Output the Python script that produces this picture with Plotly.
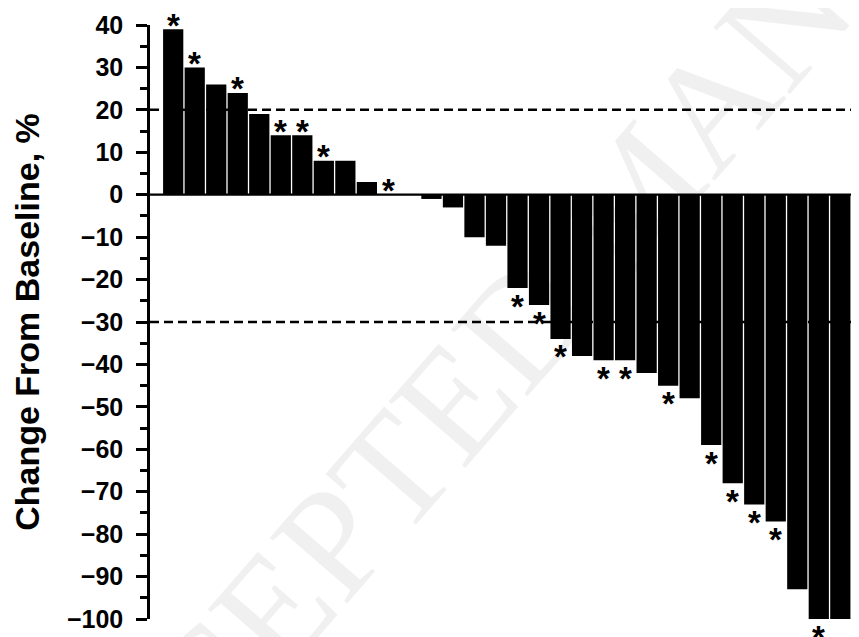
import plotly.graph_objects as go

# ---- data ----
patients = list(range(1, 33))
change_pct = [39, 30, 26, 24, 19, 14, 14, 8, 8, 3, 0, 0,
              -1, -3, -10, -12, -22, -26, -34, -38, -39, -39, -42, -45,
              -48, -59, -68, -73, -77, -93, -100, -100]
starred = [1, 1, 0, 1, 0, 1, 1, 1, 0, 0, 1, 0,
           0, 0, 0, 0, 1, 1, 1, 0, 1, 1, 0, 1,
           0, 1, 1, 1, 1, 0, 1, 0]
ref_lines = [20, -30]
y_ticks = list(range(-100, 41, 10))

FONT = "Liberation Sans"
X_RANGE = [-0.078, 32.868]

fig = go.Figure()
fig.add_trace(go.Bar(
    x=patients, y=change_pct,
    marker=dict(color="black", line=dict(width=0)),
    showlegend=False, hoverinfo="x+y",
))

annotations = []
for p, v, s in zip(patients, change_pct, starred):
    if not s:
        continue
    above = v >= 0
    annotations.append(dict(
        x=p, y=v, xref="x", yref="y", text="*", showarrow=False,
        xanchor="center", yanchor="middle",
        yshift=4 if above else -18,
        font=dict(family=FONT, size=33, color="black", weight="bold"),
    ))

# faint watermark
annotations.append(dict(
    x=0.6855, y=0.719, xref="paper", yref="paper",
    text="ACCEPTED MANUSCRIPT", showarrow=False, textangle=-49,
    xanchor="center", yanchor="middle",
    font=dict(family="Liberation Serif", size=155, color="rgba(0,0,0,0.06)"),
))

shapes = []
for r in ref_lines:
    shapes.append(dict(type="line", xref="paper", yref="y", x0=0, x1=1, y0=r, y1=r,
                       line=dict(color="black", width=2.5, dash="9px,5px"), layer="above"))
shapes.append(dict(type="line", xref="paper", yref="y", x0=0,
                   x1=(32.5 - X_RANGE[0]) / (X_RANGE[1] - X_RANGE[0]),
                   y0=0, y1=0, line=dict(color="black", width=2.2), layer="above"))

# page body has an 8px default margin, so the figure is sized to fill the rest of the window
fig.update_layout(
    width=851, height=629,
    margin=dict(l=142, r=0, t=17, b=18),
    plot_bgcolor="white", paper_bgcolor="white",
    bargap=0.06,
    annotations=annotations,
    shapes=shapes,
    xaxis=dict(range=X_RANGE, visible=False, showgrid=False, zeroline=False),
    yaxis=dict(
        range=[-100, 40], tickmode="array", tickvals=y_ticks,
        ticks="outside", ticklen=11, tickwidth=2.5, tickcolor="black",
        showline=True, linewidth=2.5, linecolor="black",
        showgrid=False, zeroline=False, ticklabelstandoff=8,
        tickfont=dict(family=FONT, size=25, color="black", weight="bold"),
        minor=dict(dtick=5, ticks="outside", ticklen=7, tickwidth=2.5, tickcolor="black", showgrid=False),
        title=dict(text="Change From Baseline, %", standoff=22,
                   font=dict(family=FONT, size=34, color="black", weight="bold")),
    ),
)

fig.write_html("out.html")
